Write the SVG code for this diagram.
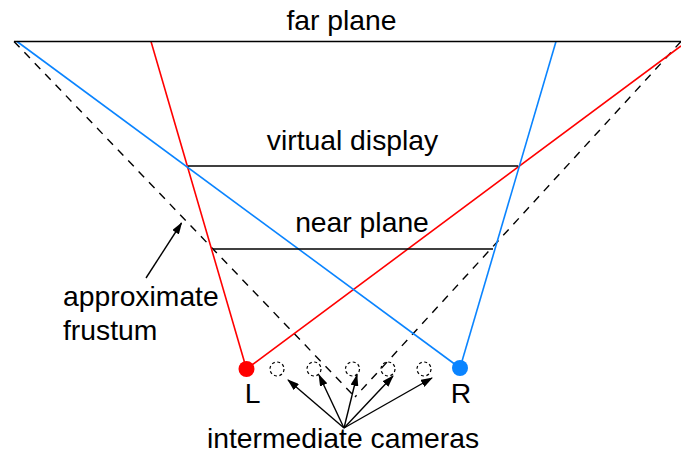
<svg xmlns="http://www.w3.org/2000/svg" width="681" height="457" viewBox="0 0 681 457">
<defs>
<style>
text{font-family:"Liberation Sans",Arial,sans-serif;font-size:28.3px;fill:#000}
.plane{stroke:#000;stroke-width:1.6;fill:none}
.red{stroke:#ff0000;stroke-width:1.6;fill:none}
.blue{stroke:#0a84ff;stroke-width:1.6;fill:none}
.dash{stroke:#000;stroke-width:1.4;fill:none;stroke-dasharray:8,7}
.arrow{stroke:#000;stroke-width:1.4;fill:none;marker-end:url(#ah)}
.cam{fill:none;stroke:#000;stroke-width:1.2;stroke-dasharray:3,2.5}
</style>
<marker id="ah" viewBox="0 0 12 8" refX="11" refY="4" markerWidth="12" markerHeight="8" markerUnits="userSpaceOnUse" orient="auto">
<path d="M0,0 L12,4 L0,8 Z" fill="#000"/>
</marker>
</defs>
<g id="connectors">
<line class="dash" x1="14" y1="41.5" x2="355" y2="397"/>
<line class="dash" x1="681" y1="41.5" x2="355" y2="397"/>
<line class="red" x1="246.5" y1="369" x2="151" y2="41.5"/>
<line class="red" x1="246.5" y1="369" x2="681" y2="46"/>
<line class="blue" x1="460" y1="368" x2="17" y2="41.5"/>
<line class="blue" x1="460" y1="368" x2="556" y2="41.5"/>
<line class="arrow" x1="146" y1="278" x2="181.5" y2="223"/>
<line class="arrow" x1="344" y1="428" x2="288" y2="380"/>
<line class="arrow" x1="344" y1="428" x2="319" y2="375"/>
<line class="arrow" x1="344" y1="428" x2="357" y2="375"/>
<line class="arrow" x1="344" y1="428" x2="393" y2="376"/>
<line class="arrow" x1="344" y1="428" x2="432" y2="378"/>
</g>
<g id="far-plane">
<line class="plane" x1="14" y1="41.5" x2="681" y2="41.5"/>
<text x="341.5" y="29.5" text-anchor="middle">far plane</text>
</g>
<g id="virtual-display">
<line class="plane" x1="188" y1="166" x2="518" y2="166"/>
<text x="352.5" y="150" text-anchor="middle">virtual display</text>
</g>
<g id="near-plane">
<line class="plane" x1="213" y1="249" x2="493" y2="249"/>
<text x="362" y="232" text-anchor="middle">near plane</text>
</g>
<g id="frustum-label">
<text x="63" y="306">approximate</text>
<text x="63" y="340">frustum</text>
</g>
<g id="camera-L">
<circle cx="246.5" cy="369" r="8" fill="#ff0000"/>
<text x="252.5" y="403" text-anchor="middle">L</text>
</g>
<g id="camera-R">
<circle cx="460" cy="368" r="8" fill="#0a84ff"/>
<text x="461" y="403" text-anchor="middle">R</text>
</g>
<g id="intermediate-cameras">
<circle class="cam" cx="277" cy="369" r="7"/>
<circle class="cam" cx="314" cy="369" r="7"/>
<circle class="cam" cx="352.5" cy="369" r="7"/>
<circle class="cam" cx="388" cy="369" r="7"/>
<circle class="cam" cx="424" cy="369" r="7"/>
<text x="343" y="448" text-anchor="middle">intermediate cameras</text>
</g>
</svg>
